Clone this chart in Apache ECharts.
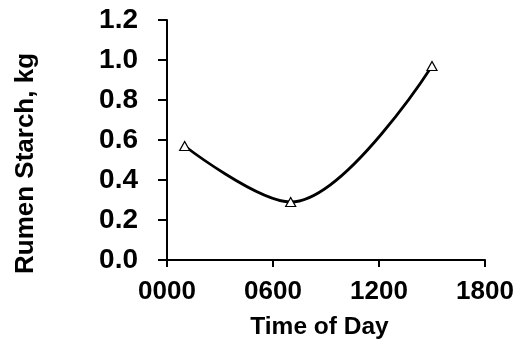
<!DOCTYPE html>
<html>
<head>
<meta charset="utf-8">
<script src="https://cdn.jsdelivr.net/npm/echarts@6/dist/echarts.min.js"></script>
<style>
  html, body { margin: 0; padding: 0; background: #fff; }
  #chart { width: 521px; height: 347px; }
</style>
</head>
<body>
<div id="chart"></div>
<script>
// Sampling times (hour of day) and rumen starch pool (kg)
const hours = [1, 7, 15];
const starch = [0.57, 0.29, 0.97];

// Axis tick values
const xTicks = [0, 6, 12, 18];
const yTicks = [0, 0.2, 0.4, 0.6, 0.8, 1.0, 1.2];

const FONT = 'Liberation Sans, Arial, sans-serif';

const chart = echarts.init(document.getElementById('chart'), null, { renderer: 'canvas' });

chart.setOption({
  animation: false,
  backgroundColor: '#ffffff',
  grid: { left: 167, right: 36, top: 20, bottom: 87, containLabel: false },
  xAxis: {
    type: 'value',
    min: xTicks[0],
    max: xTicks[xTicks.length - 1],
    interval: 6,
    name: 'Time of Day',
    nameLocation: 'middle',
    nameGap: 55,
    nameTextStyle: {
      fontFamily: FONT, fontWeight: 'bold', fontSize: 24.5, color: '#000',
      padding: [0, 13, 0, 0]
    },
    axisLine: { show: true, onZero: false, lineStyle: { color: '#000', width: 2 } },
    axisTick: { show: true, inside: false, length: 7, lineStyle: { color: '#000', width: 2 } },
    axisLabel: {
      margin: 19,
      fontFamily: FONT, fontWeight: 'bold', fontSize: 26, color: '#000',
      formatter: v => String(v * 100).padStart(4, '0')
    },
    splitLine: { show: false }
  },
  yAxis: {
    type: 'value',
    min: yTicks[0],
    max: yTicks[yTicks.length - 1],
    interval: 0.2,
    name: 'Rumen Starch, kg',
    nameLocation: 'middle',
    nameGap: 128,
    nameTextStyle: {
      fontFamily: FONT, fontWeight: 'bold', fontSize: 26, color: '#000',
      padding: [0, 47, 0, 0]
    },
    axisLine: { show: true, lineStyle: { color: '#000', width: 2 } },
    axisTick: { show: true, inside: false, length: 9, lineStyle: { color: '#000', width: 2 } },
    axisLabel: {
      margin: 29,
      fontFamily: FONT, fontWeight: 'bold', fontSize: 28, color: '#000',
      formatter: v => v.toFixed(1)
    },
    splitLine: { show: false }
  },
  series: [{
    type: 'line',
    data: hours.map((h, i) => [h, starch[i]]),
    smooth: 0.35,
    symbol: 'triangle',
    symbolSize: [10, 9],
    showAllSymbol: true,
    lineStyle: { color: '#000', width: 2.8 },
    itemStyle: { color: '#fff', borderColor: '#000', borderWidth: 1.2 },
    z: 3
  }]
});
</script>
</body>
</html>
